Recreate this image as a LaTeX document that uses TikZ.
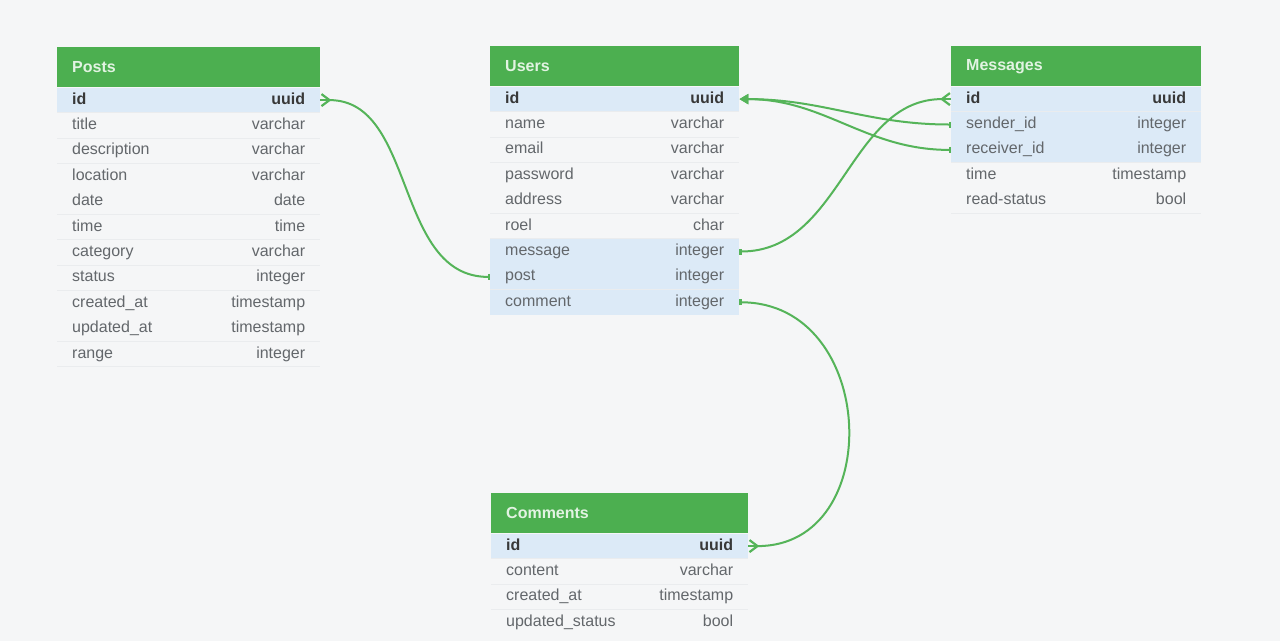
\documentclass[tikz,border=0pt]{standalone}
\usepackage{fontspec}
\setmainfont{Liberation Sans}
\usetikzlibrary{positioning,arrows.meta}
\definecolor{canvas}{HTML}{F5F6F7}
\definecolor{hdrgreen}{HTML}{4CAF50}
\definecolor{hdrtext}{HTML}{E2F3E2}
\definecolor{keyblue}{HTML}{DCEAF7}
\definecolor{fieldgray}{HTML}{63676B}
\definecolor{sepgray}{HTML}{EAECEE}
\definecolor{relgreen}{HTML}{55B459}

\begin{document}
\begin{tikzpicture}[x=1pt,y=-1pt,% pixel units, y runs down
			every node/.style={
				rectangle,
				inner xsep=15pt, inner ysep=0pt,
				align=left,		% \hfill pushes the type to the right edge
				font=\fontsize{16}{18}\selectfont
			},
			header/.style={fill=hdrgreen,text=hdrtext,minimum height=40pt,font=\fontsize{16}{18}\selectfont\bfseries},
			field/.style={minimum height=25pt,text height=12pt,text depth=4pt,text=fieldgray,
				path picture={\draw[sepgray] (path picture bounding box.south west) -- (path picture bounding box.south east);}},
			key/.style={field,fill=keyblue},
			pkey/.style={key,text=black!78,font=\fontsize{16}{18}\selectfont\bfseries},
			posts/.style={text width=233pt},
			users/.style={text width=219pt},
			messages/.style={text width=220pt},
			comments/.style={text width=227pt},
			crow/.tip={Straight Barb[reversed,length=8pt,width=12pt,line width=2.2pt]},
			tick/.tip={Bar[width=6pt,line width=2.5pt]},
			rel/.style={draw=relgreen,line width=2pt}
		]
		\useasboundingbox[fill=canvas] (0,0) rectangle (1280,641);
		% Posts
		\node[header,posts,anchor=north west](Posts) at (57,47){Posts};
		\node[pkey,posts](Pid)[below=0pt of Posts]{id\hfill uuid};
		\node[field,posts](Ptitle)[below=0pt of Pid]{title\hfill varchar};
		\node[field,posts](Pdesc)[below=0pt of Ptitle]{description\hfill varchar};
		\node[field,posts](Ploc)[below=0pt of Pdesc]{location\hfill varchar};
		\node[field,posts](Pdate)[below=0pt of Ploc]{date\hfill date};
		\node[field,posts](Ptime)[below=0pt of Pdate]{time\hfill time};
		\node[field,posts](Pcat)[below=0pt of Ptime]{category\hfill varchar};
		\node[field,posts](Pstatus)[below=0pt of Pcat]{status\hfill integer};
		\node[field,posts](Pcreated)[below=0pt of Pstatus]{created\_at\hfill timestamp};
		\node[field,posts](Pupdated)[below=0pt of Pcreated]{updated\_at\hfill timestamp};
		\node[field,posts](Prange)[below=0pt of Pupdated]{range\hfill integer};
		% Users
		\node[header,users,anchor=north west](Users) at (490,46){Users};
		\node[pkey,users](Uid)[below=0pt of Users]{id\hfill uuid};
		\node[field,users](Uname)[below=0pt of Uid]{name\hfill varchar};
		\node[field,users](Uemail)[below=0pt of Uname]{email\hfill varchar};
		\node[field,users](Upass)[below=0pt of Uemail]{password\hfill varchar};
		\node[field,users](Uaddr)[below=0pt of Upass]{address\hfill varchar};
		\node[field,users](Urole)[below=0pt of Uaddr]{roel\hfill char};
		\node[key,users](Umsg)[below=0pt of Urole]{message\hfill integer};
		\node[key,users](Upost)[below=0pt of Umsg]{post\hfill integer};
		\node[key,users](Ucomm)[below=0pt of Upost]{comment\hfill integer};
		% Messages
		\node[header,messages,anchor=north west](Messages) at (951,46){Messages};
		\node[pkey,messages](Mid)[below=0pt of Messages]{id\hfill uuid};
		\node[key,messages](Msender)[below=0pt of Mid]{sender\_id\hfill integer};
		\node[key,messages](Mreceiver)[below=0pt of Msender]{receiver\_id\hfill integer};
		\node[field,messages](Mtime)[below=0pt of Mreceiver]{time\hfill timestamp};
		\node[field,messages](Mread)[below=0pt of Mtime]{read-status\hfill bool};
		% Comments
		\node[header,comments,anchor=north west](Comments) at (491,493){Comments};
		\node[pkey,comments](Cid)[below=0pt of Comments]{id\hfill uuid};
		\node[field,comments](Ccontent)[below=0pt of Cid]{content\hfill varchar};
		\node[field,comments](Ccreated)[below=0pt of Ccontent]{created\_at\hfill timestamp};
		\node[field,comments](Cupdated)[below=0pt of Ccreated]{updated\_status\hfill bool};
		% relations
		\draw[rel,crow-tick] (Pid.east) to[out=0,in=180] (Upost.west);
		\draw[rel,tick-crow] (Umsg.east) to[out=0,in=180] (Mid.west);
		\draw[rel,tick-{Triangle[length=9pt,width=10pt]}] (Msender.west) to[out=180,in=0] (Uid.east);
		\draw[rel,tick-{Triangle[length=9pt,width=10pt]}] (Mreceiver.west) to[out=180,in=0] (Uid.east);
		\draw[rel,tick-crow] (Ucomm.east) to[out=0,in=0,looseness=1.45] (Cid.east);
		% middle prongs of the crow's feet
		\draw[rel] (Pid.east) -- ++(9,0);
		\draw[rel] (Mid.west) -- ++(-9,0);
		\draw[rel] (Cid.east) -- ++(9,0);
	\end{tikzpicture}
\end{document}
